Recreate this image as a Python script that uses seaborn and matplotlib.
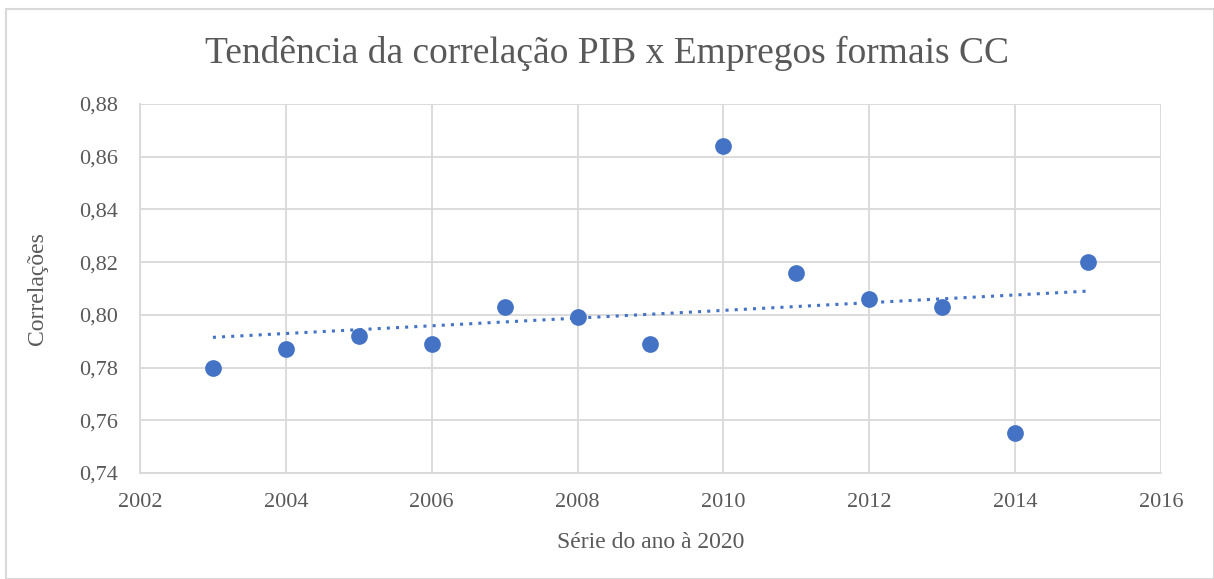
import numpy as np
import pandas as pd
import matplotlib
matplotlib.use("Agg")
import matplotlib.pyplot as plt
import seaborn as sns
from matplotlib.patches import Rectangle
from matplotlib.ticker import FuncFormatter

anos = [2003, 2004, 2005, 2006, 2007, 2008, 2009, 2010, 2011, 2012, 2013, 2014, 2015]
correlacoes = [0.780, 0.787, 0.792, 0.789, 0.803, 0.799, 0.789, 0.864, 0.816, 0.806, 0.803, 0.755, 0.820]

df = pd.DataFrame({"ano": anos, "corr": correlacoes})

sns.set_style("white")
plt.rcParams["font.family"] = ["Liberation Serif", "DejaVu Serif"]

azul = "#4472C4"
cinza = "#595959"

fig = plt.figure(figsize=(12.14, 5.79), dpi=100)
ax = fig.add_axes([0.1153, 0.1831, 0.8410, 0.6373])

# borda do gráfico
fig.patches.append(Rectangle((0.005, 0.0), 0.995, 0.985, transform=fig.transFigure,
                             fill=False, edgecolor="#D9D9D9", linewidth=1.5))

sns.regplot(data=df, x="ano", y="corr", scatter=False, ci=None, ax=ax,
            line_kws=dict(color=azul, linestyle=(0, (1, 2)), linewidth=2.2))
sns.scatterplot(data=df, x="ano", y="corr", ax=ax, color=azul, s=145,
                edgecolor=azul, linewidth=0, zorder=3)

ax.set_xlim(2002, 2016)
ax.set_ylim(0.74, 0.88)
ax.set_xticks(range(2002, 2017, 2))
ax.set_yticks(np.arange(0.74, 0.8801, 0.02))
ax.yaxis.set_major_formatter(FuncFormatter(lambda v, p: f"{v:.2f}".replace(".", ",")))

ax.grid(True, color="#D9D9D9", linewidth=1.3)
ax.set_axisbelow(True)
for lado, sp in ax.spines.items():
    sp.set_visible(lado in ("left", "bottom"))
    sp.set_color("#D9D9D9")
    sp.set_linewidth(1.3)

ax.tick_params(axis="both", length=0, labelsize=16, labelcolor=cinza)
ax.tick_params(axis="x", pad=14.5)
ax.tick_params(axis="y", pad=16)
ax.set_xlabel("Série do ano à 2020", fontsize=17, color=cinza, labelpad=14)
ax.set_ylabel("Correlações", fontsize=17, color=cinza, labelpad=22)
fig.text(0.5, 0.907, "Tendência da correlação PIB x Empregos formais CC",
         ha="center", va="center", fontsize=27, color=cinza)

fig.savefig("out.png", dpi=100)
